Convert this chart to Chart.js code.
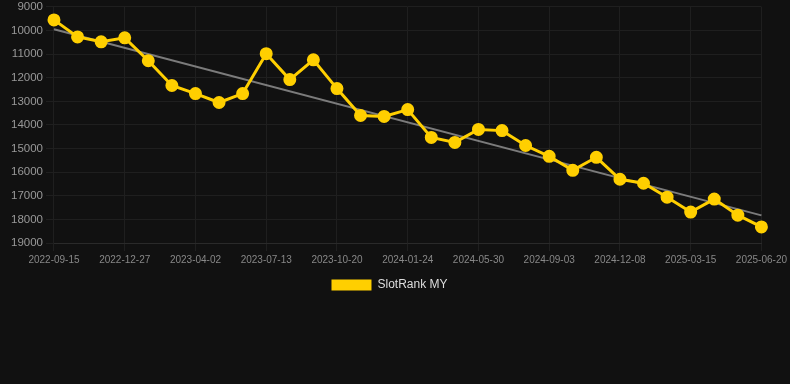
<!DOCTYPE html>
<html>
<head>
<meta charset="utf-8">
<script src="https://cdn.jsdelivr.net/npm/chart.js@4/dist/chart.umd.min.js"></script>
<style>
  html, body { margin: 0; padding: 0; background: #111111; overflow: hidden; }
  #wrap { width: 790px; height: 304px; position: relative; margin-top: -3px; }
</style>
</head>
<body>
<div id="wrap"><canvas id="c"></canvas></div>
<script>
const categories = [
  "2022-09-15","2022-10-19","2022-11-22","2022-12-27","2023-01-28","2023-03-01",
  "2023-04-02","2023-05-06","2023-06-09","2023-07-13","2023-08-15","2023-09-17",
  "2023-10-20","2023-11-21","2023-12-23","2024-01-24","2024-03-06","2024-04-18",
  "2024-05-30","2024-07-01","2024-08-02","2024-09-03","2024-10-05","2024-11-06",
  "2024-12-08","2025-01-09","2025-02-11","2025-03-15","2025-04-16","2025-05-19",
  "2025-06-20"
];
const rankValues = [
  9550, 10270, 10480, 10310, 11280, 12330,
  12670, 13050, 12670, 10980, 12080, 11240,
  12460, 13600, 13640, 13350, 14530, 14740,
  14190, 14240, 14870, 15330, 15920, 15370,
  16300, 16470, 17060, 17690, 17140, 17820,
  18320
];
// trend line endpoints (first and last category)
const trendStart = 9950;
const trendEnd = 17830;
const yTicks = { min: 9000, max: 19000, step: 1000 };

const trendValues = categories.map((_, i) =>
  i === 0 ? trendStart : (i === categories.length - 1 ? trendEnd : null));

new Chart(document.getElementById('c'), {
  type: 'line',
  data: {
    labels: categories,
    datasets: [
      {
        label: 'SlotRank MY',
        data: rankValues,
        borderColor: '#ffcf00',
        backgroundColor: '#ffcf00',
        borderWidth: 3,
        pointRadius: 5,
        pointHoverRadius: 5,
        pointBackgroundColor: '#ffcf00',
        pointBorderColor: '#ffcf00',
        tension: 0,
        order: 1
      },
      {
        label: 'trend',
        data: trendValues,
        borderColor: 'rgba(150,150,150,0.8)',
        backgroundColor: 'rgba(150,150,150,0.8)',
        borderWidth: 2,
        pointRadius: 0,
        spanGaps: true,
        order: 2
      }
    ]
  },
  options: {
    responsive: true,
    maintainAspectRatio: false,
    animation: false,
    layout: { padding: { left: 8, right: 19 } },
    plugins: {
      legend: {
        position: 'bottom',
        labels: {
          color: '#dddddd',
          font: { size: 12 },
          boxWidth: 40,
          boxHeight: 11,
          generateLabels: (chart) =>
            Chart.defaults.plugins.legend.labels.generateLabels(chart)
              .filter(it => it.text !== 'trend')
              .map(it => Object.assign(it, { lineWidth: 0 }))
        }
      },
      tooltip: { enabled: false }
    },
    scales: {
      x: {
        grid: { color: '#1f1f1f', tickColor: '#1f1f1f' },
        border: { color: '#2a2a2a' },
        ticks: {
          color: '#888888',
          font: { size: 10 },
          maxRotation: 0,
          autoSkip: true,
          maxTicksLimit: 11
        }
      },
      y: {
        reverse: true,
        min: yTicks.min,
        max: yTicks.max,
        grid: { color: '#1f1f1f', tickColor: '#1f1f1f' },
        border: { color: '#1f1f1f' },
        ticks: {
          stepSize: yTicks.step,
          color: '#999999',
          font: { size: 11.5 },
          callback: (v) => String(v)
        }
      }
    }
  }
});
</script>
</body>
</html>
